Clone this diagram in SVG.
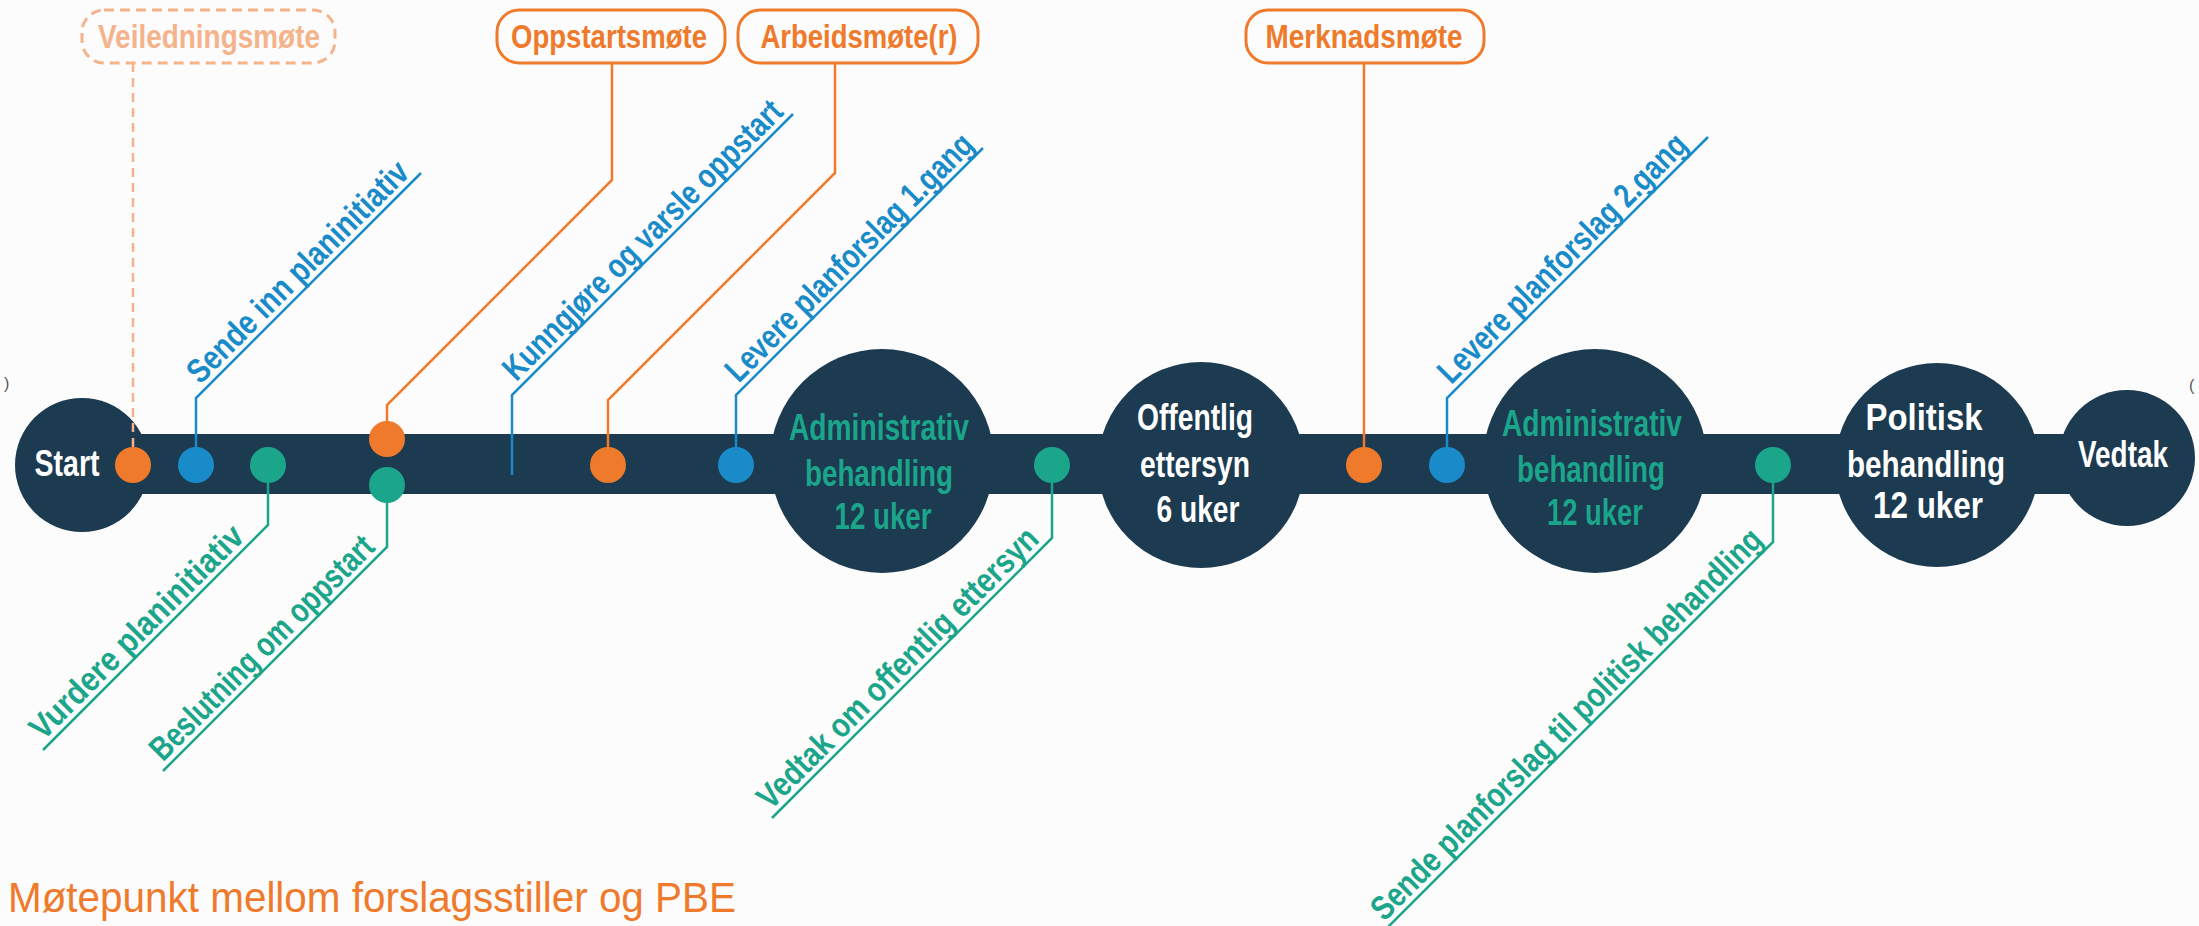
<svg xmlns="http://www.w3.org/2000/svg" width="2199" height="926" viewBox="0 0 2199 926">
<defs>
<style>
.bg{fill:#fcfcfc}
.navy{fill:#1c3a50}
.t{font-family:"Liberation Sans",Arial,sans-serif;font-weight:700}
.node{fill:#ffffff;font-size:36px;text-anchor:middle}
.nodeg{fill:#1ba58a;font-size:36px;text-anchor:middle}
.box{fill:none;stroke:#f07a2b;stroke-width:3}
.boxd{fill:none;stroke:#f5b38c;stroke-width:3;stroke-dasharray:10 6}
.boxt{fill:#f07a2b;font-size:33px;text-anchor:middle}
.boxtd{fill:#f5b38c;font-size:33px;text-anchor:middle}
.lo{fill:none;stroke:#f07a2b;stroke-width:2.5}
.lod{fill:none;stroke:#f5b38c;stroke-width:2.5;stroke-dasharray:9 6}
.lb{fill:none;stroke:#1a8bc9;stroke-width:2.5}
.lg{fill:none;stroke:#1ba58a;stroke-width:2.5}
.dO{fill:#f07a2b}
.dB{fill:#1a8bc9}
.dG{fill:#1ba58a}
.tb{fill:#1a8bc9;font-size:34px}
.tg{fill:#1ba58a;font-size:34px}
</style>
</defs>
<rect class="bg" x="0" y="0" width="2199" height="926"/>

<g id="track">
<rect class="navy" x="82" y="434" width="2046" height="60"/>
</g>

<g id="node-start"><circle class="navy" cx="82" cy="465" r="67"/><text class="t node" x="67" y="476" textLength="65" lengthAdjust="spacingAndGlyphs">Start</text></g>
<g id="node-admin1"><circle class="navy" cx="882" cy="461" r="112"/>
<text class="t nodeg" x="879" y="440" textLength="180" lengthAdjust="spacingAndGlyphs">Administrativ</text>
<text class="t nodeg" x="879" y="486" textLength="148" lengthAdjust="spacingAndGlyphs">behandling</text>
<text class="t nodeg" x="883" y="529" textLength="97" lengthAdjust="spacingAndGlyphs">12 uker</text></g>
<g id="node-offentlig"><circle class="navy" cx="1201" cy="465" r="103"/>
<text class="t node" x="1195" y="430" textLength="116" lengthAdjust="spacingAndGlyphs">Offentlig</text>
<text class="t node" x="1195" y="477" textLength="110" lengthAdjust="spacingAndGlyphs">ettersyn</text>
<text class="t node" x="1198" y="522" textLength="83" lengthAdjust="spacingAndGlyphs">6 uker</text></g>
<g id="node-admin2"><circle class="navy" cx="1595" cy="461" r="112"/>
<text class="t nodeg" x="1592" y="436" textLength="180" lengthAdjust="spacingAndGlyphs">Administrativ</text>
<text class="t nodeg" x="1591" y="482" textLength="148" lengthAdjust="spacingAndGlyphs">behandling</text>
<text class="t nodeg" x="1595" y="525" textLength="96" lengthAdjust="spacingAndGlyphs">12 uker</text></g>
<g id="node-politisk"><circle class="navy" cx="1937" cy="465" r="102"/>
<text class="t node" x="1924" y="430" textLength="117" lengthAdjust="spacingAndGlyphs">Politisk</text>
<text class="t node" x="1926" y="477" textLength="158" lengthAdjust="spacingAndGlyphs">behandling</text>
<text class="t node" x="1928" y="518" textLength="110" lengthAdjust="spacingAndGlyphs">12 uker</text></g>
<g id="node-vedtak"><circle class="navy" cx="2127" cy="458" r="68"/>
<text class="t node" x="2123" y="467" textLength="90" lengthAdjust="spacingAndGlyphs">Vedtak</text></g>

<g id="meeting-boxes">
<g id="box-veiledning"><rect class="boxd" x="82" y="10" width="253" height="53" rx="22"/><text class="t boxtd" x="209" y="48" textLength="222" lengthAdjust="spacingAndGlyphs">Veiledningsmøte</text></g>
<g id="box-oppstart"><rect class="box" x="497" y="10" width="228" height="53" rx="22"/><text class="t boxt" x="609" y="48" textLength="196" lengthAdjust="spacingAndGlyphs">Oppstartsmøte</text></g>
<g id="box-arbeid"><rect class="box" x="738" y="10" width="240" height="53" rx="22"/><text class="t boxt" x="859" y="48" textLength="197" lengthAdjust="spacingAndGlyphs">Arbeidsmøte(r)</text></g>
<g id="box-merknad"><rect class="box" x="1246" y="10" width="238" height="53" rx="22"/><text class="t boxt" x="1364" y="48" textLength="197" lengthAdjust="spacingAndGlyphs">Merknadsmøte</text></g>
</g>

<g id="connectors">
<line class="lod" x1="133" y1="63" x2="133" y2="465"/>
<polyline class="lo" points="612,63 612,180 387,405 387,439"/>
<polyline class="lo" points="835,63 835,173 608,400 608,465"/>
<line class="lo" x1="1364" y1="63" x2="1364" y2="465"/>
<polyline class="lb" points="196,465 196,398 421,173"/>
<polyline class="lb" points="512,475 512,395 793,114"/>
<polyline class="lb" points="736,465 736,395 983,148"/>
<polyline class="lb" points="1447,465 1447,398 1708,137"/>
<polyline class="lg" points="268,465 268,525 43,750"/>
<polyline class="lg" points="387,485 387,547 163,771"/>
<polyline class="lg" points="1052,465 1052,538 772,818"/>
<polyline class="lg" points="1773,465 1773,542 1380,935"/>
</g>

<g id="dots">
<circle class="dO" cx="133" cy="465" r="18"/>
<circle class="dB" cx="196" cy="465" r="18"/>
<circle class="dG" cx="268" cy="465" r="18"/>
<circle class="dO" cx="387" cy="439" r="18"/>
<circle class="dG" cx="387" cy="485" r="18"/>
<circle class="dO" cx="608" cy="465" r="18"/>
<circle class="dB" cx="736" cy="465" r="18"/>
<circle class="dG" cx="1052" cy="465" r="18"/>
<circle class="dO" cx="1364" cy="465" r="18"/>
<circle class="dB" cx="1447" cy="465" r="18"/>
<circle class="dG" cx="1773" cy="465" r="18"/>
</g>

<g id="labels">
<g transform="translate(196,398) rotate(-45)"><text class="t tb" x="12" y="-6" textLength="298" lengthAdjust="spacingAndGlyphs">Sende inn planinitiativ</text></g>
<g transform="translate(512,395) rotate(-45)"><text class="t tb" x="12" y="-6" textLength="380" lengthAdjust="spacingAndGlyphs">Kunngjøre og varsle oppstart</text></g>
<g transform="translate(736,395) rotate(-45)"><text class="t tb" x="10" y="-6" textLength="335" lengthAdjust="spacingAndGlyphs">Levere planforslag 1.gang</text></g>
<g transform="translate(1447,398) rotate(-45)"><text class="t tb" x="12" y="-6" textLength="337" lengthAdjust="spacingAndGlyphs">Levere planforslag 2.gang</text></g>
<g transform="translate(43,750) rotate(-45)"><text class="t tg" x="6" y="-6" textLength="287" lengthAdjust="spacingAndGlyphs">Vurdere planinitiativ</text></g>
<g transform="translate(163,771) rotate(-45)"><text class="t tg" x="6" y="-6" textLength="302" lengthAdjust="spacingAndGlyphs">Beslutning om oppstart</text></g>
<g transform="translate(772,818) rotate(-45)"><text class="t tg" x="4" y="-6" textLength="382" lengthAdjust="spacingAndGlyphs">Vedtak om offentlig ettersyn</text></g>
<g transform="translate(1380,935) rotate(-45)"><text class="t tg" x="12" y="-6" textLength="538" lengthAdjust="spacingAndGlyphs">Sende planforslag til politisk behandling</text></g>
</g>

<g id="legend">
<text x="8" y="912" font-family="Liberation Sans, Arial, sans-serif" font-size="42" fill="#f07a2b" textLength="728" lengthAdjust="spacingAndGlyphs">Møtepunkt mellom forslagsstiller og PBE</text>
</g>
<text x="4" y="389" font-family="Liberation Sans, Arial, sans-serif" font-size="16" fill="#555555">)</text>
<text x="2189" y="391" font-family="Liberation Sans, Arial, sans-serif" font-size="16" fill="#555555">(</text>
</svg>
